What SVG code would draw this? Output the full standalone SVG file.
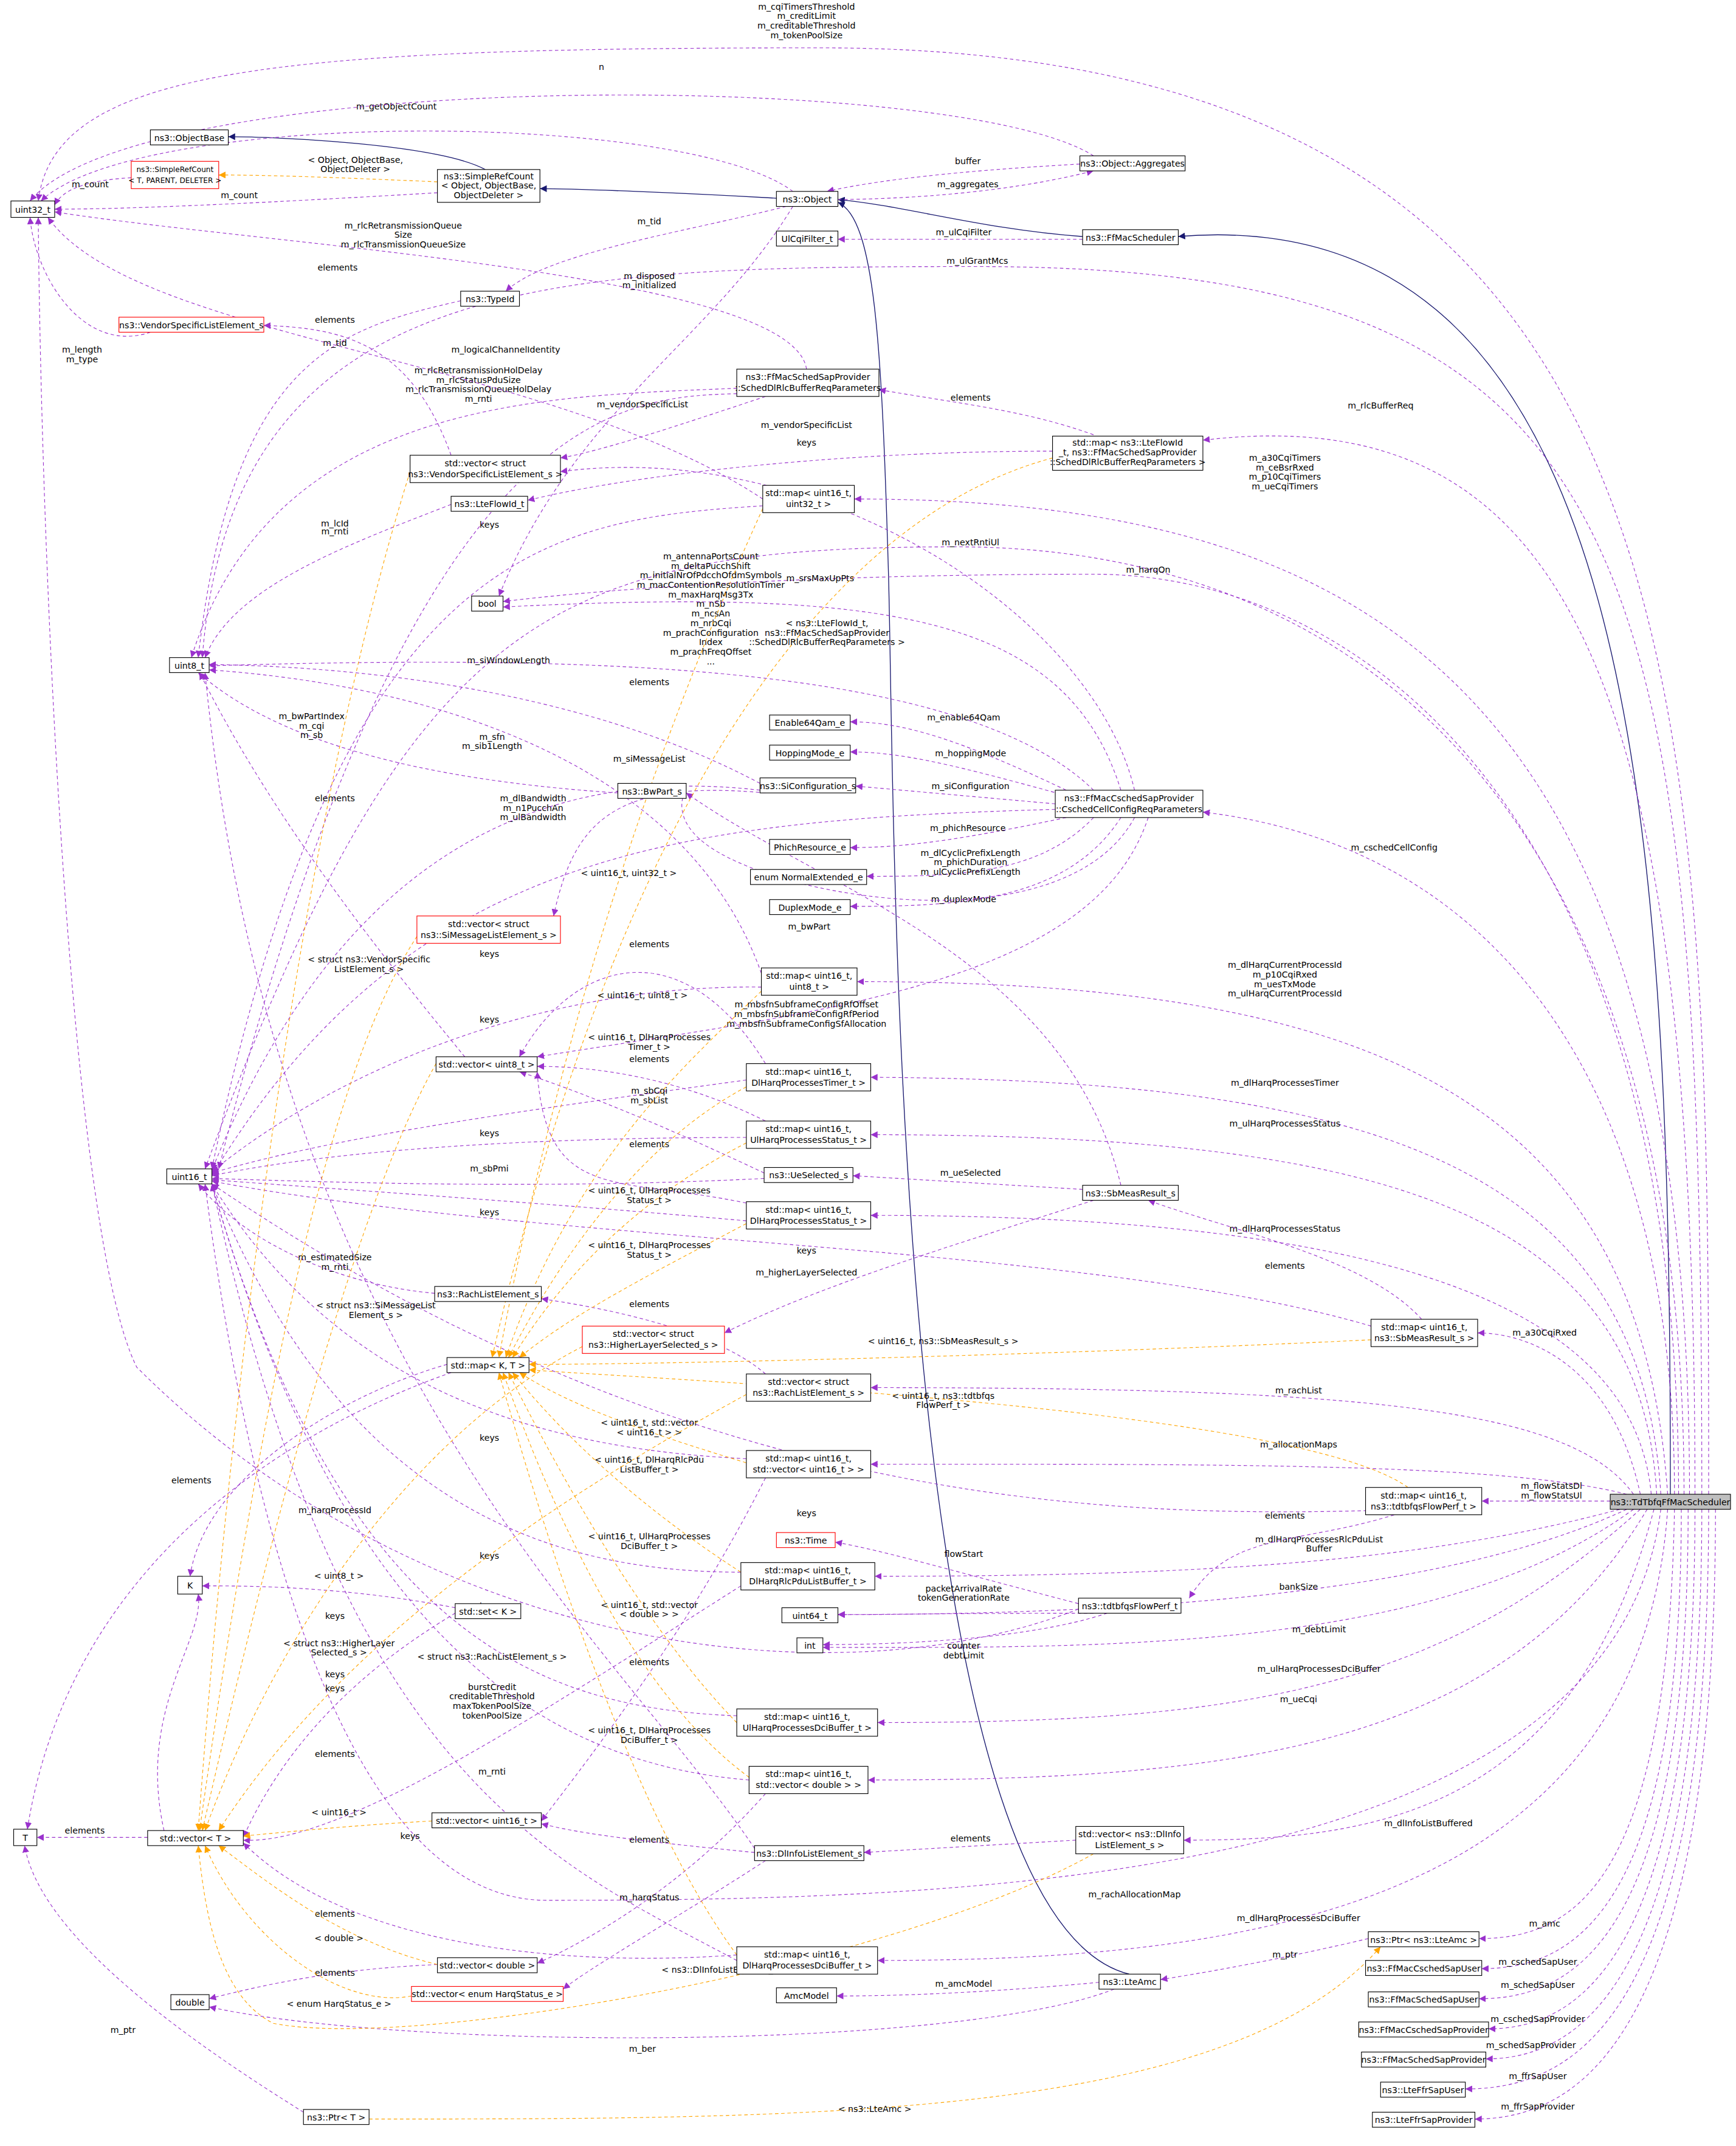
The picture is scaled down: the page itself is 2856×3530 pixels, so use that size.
<svg xmlns="http://www.w3.org/2000/svg" width="2856" height="3530" viewBox="0 0 2856 3530">
<style>
rect{fill:#fff;stroke:#000;stroke-width:0.5}
.r{stroke:#f00}
.g{fill:#bfbfbf}
text{font-family:"DejaVu Sans",sans-serif;font-size:6.3px;text-anchor:middle;fill:#000}
.s{font-size:5.4px}
.e{fill:none;stroke:#9a32cd;stroke-width:0.5;stroke-dasharray:2.5,2}
.o{fill:none;stroke:#ffa500;stroke-width:0.5;stroke-dasharray:2.5,2}
.i{fill:none;stroke:#191970;stroke-width:0.6}
</style>
<defs>
<marker id="mp" viewBox="0 0 10 10" refX="10" refY="5" markerWidth="5" markerHeight="5" markerUnits="userSpaceOnUse" orient="auto"><path d="M0,0L10,5L0,10z" fill="#9a32cd"/></marker>
<marker id="mo" viewBox="0 0 10 10" refX="10" refY="5" markerWidth="5" markerHeight="5" markerUnits="userSpaceOnUse" orient="auto"><path d="M0,0L10,5L0,10z" fill="#ffa500"/></marker>
<marker id="mi" viewBox="0 0 10 10" refX="10" refY="5" markerWidth="5" markerHeight="5" markerUnits="userSpaceOnUse" orient="auto"><path d="M0,0L10,5L0,10z" fill="#191970"/></marker>
</defs>
<rect x="0" y="0" width="2856" height="3530" style="fill:#fff;stroke:none"/>
<g transform="scale(2.2488)">
<g id="connectors">
<path class="i" marker-end="url(#mi)" d="M1222,1093C1222,600 1200,145 862,173"/>
<path class="i" marker-end="url(#mi)" d="M792,173C720,168 660,150 613,146"/>
<path class="i" marker-end="url(#mi)" d="M568,145C500,141 420,138 395,138"/>
<path class="i" marker-end="url(#mi)" d="M355,124C320,105 200,100 167,100"/>
<path class="i" marker-end="url(#mi)" d="M826,1444C650,1400 655,600 650,420C645,250 640,160 613,148"/>
<path class="e" marker-end="url(#mp)" d="M1250,1093C1250,500 1250,35 600,35C200,35 40,50 28,147"/>
<text x="590" y="7">m_cqiTimersThreshold</text><text x="590" y="14">m_creditLimit</text><text x="590" y="21">m_creditableThreshold</text><text x="590" y="28">m_tokenPoolSize</text>
<path class="e" marker-end="url(#mp)" d="M1245,1093C1245,400 1200,195 715,195C400,195 170,200 148,481"/>
<text x="715" y="193">m_ulGrantMcs</text>
<path class="e" marker-end="url(#mp)" d="M1240,1093C1240,500 1150,290 880,322"/>
<text x="1010" y="299">m_rlcBufferReq</text>
<path class="e" marker-end="url(#mp)" d="M1236,1093C1236,500 1000,365 625,365"/>
<text x="940" y="337">m_a30CqiTimers</text><text x="940" y="344">m_ceBsrRxed</text><text x="940" y="351">m_p10CqiTimers</text><text x="940" y="358">m_ueCqiTimers</text>
<path class="e" marker-end="url(#mp)" d="M1232,1093C1232,600 1000,400 700,400C400,400 300,450 150,855"/>
<text x="710" y="399">m_nextRntiUl</text>
<path class="e" marker-end="url(#mp)" d="M1228,1093C1228,600 1000,420 800,420C600,420 450,430 368,440"/>
<text x="840" y="419">m_harqOn</text>
<path class="e" marker-end="url(#mp)" d="M1225,1093C1225,800 1100,620 880,594"/>
<text x="1020" y="622">m_cschedCellConfig</text>
<path class="e" marker-end="url(#mp)" d="M1220,1093C1200,800 1000,718 627,718"/>
<text x="940" y="708">m_dlHarqCurrentProcessId</text><text x="940" y="715">m_p10CqiRxed</text><text x="940" y="722">m_uesTxMode</text><text x="940" y="729">m_ulHarqCurrentProcessId</text>
<path class="e" marker-end="url(#mp)" d="M1215,1093C1200,850 1000,790 637,788"/>
<text x="940" y="794">m_dlHarqProcessesTimer</text>
<path class="e" marker-end="url(#mp)" d="M1212,1093C1200,880 1000,830 637,830"/>
<text x="940" y="824">m_ulHarqProcessesStatus</text>
<path class="e" marker-end="url(#mp)" d="M1208,1093C1195,950 1000,889 637,889"/>
<text x="940" y="901">m_dlHarqProcessesStatus</text>
<path class="e" marker-end="url(#mp)" d="M1200,1093C1180,1000 1120,975 1081,975"/>
<text x="1130" y="977">m_a30CqiRxed</text>
<path class="e" marker-end="url(#mp)" d="M1195,1093C1150,1030 1000,1015 637,1015"/>
<text x="950" y="1019">m_rachList</text>
<path class="e" marker-end="url(#mp)" d="M1190,1093C1100,1070 900,1071 637,1071"/>
<text x="950" y="1059">m_allocationMaps</text>
<path class="e" marker-end="url(#mp)" d="M1178,1098L1084,1098"/>
<text x="1135" y="1089">m_flowStatsDl</text><text x="1135" y="1096">m_flowStatsUl</text>
<path class="e" marker-end="url(#mp)" d="M1185,1104C1050,1140 900,1153 640,1153"/>
<text x="965" y="1128">m_dlHarqProcessesRlcPduList</text><text x="965" y="1135">Buffer</text>
<path class="e" marker-end="url(#mp)" d="M1190,1104C1050,1170 800,1181 613,1181"/>
<text x="950" y="1163">bankSize</text>
<path class="e" marker-end="url(#mp)" d="M1195,1104C1050,1210 800,1205 602,1205"/>
<text x="965" y="1194">m_debtLimit</text>
<path class="e" marker-end="url(#mp)" d="M1200,1104C1050,1240 900,1260 642,1260"/>
<text x="965" y="1223">m_ulHarqProcessesDciBuffer</text>
<path class="e" marker-end="url(#mp)" d="M1205,1104C1100,1280 900,1302 635,1302"/>
<text x="950" y="1245">m_ueCqi</text>
<path class="e" marker-end="url(#mp)" d="M1210,1104C1150,1330 1000,1346 866,1346"/>
<text x="1045" y="1336">m_dlInfoListBuffered</text>
<path class="e" marker-end="url(#mp)" d="M1215,1104C1180,1380 700,1390 400,1390C250,1390 180,1100 150,866"/>
<text x="830" y="1388">m_rachAllocationMap</text>
<path class="e" marker-end="url(#mp)" d="M1220,1104C1200,1400 900,1434 642,1434"/>
<text x="950" y="1405">m_dlHarqProcessesDciBuffer</text>
<path class="e" marker-end="url(#mp)" d="M1225,1104C1220,1380 1150,1418 1082,1418"/>
<text x="1130" y="1409">m_amc</text>
<path class="e" marker-end="url(#mp)" d="M1230,1104C1230,1400 1150,1440 1084,1440"/>
<text x="1125" y="1437">m_cschedSapUser</text>
<path class="e" marker-end="url(#mp)" d="M1235,1104C1235,1420 1150,1462 1082,1462"/>
<text x="1125" y="1454">m_schedSapUser</text>
<path class="e" marker-end="url(#mp)" d="M1240,1104C1240,1440 1150,1484 1089,1484"/>
<text x="1125" y="1479">m_cschedSapProvider</text>
<path class="e" marker-end="url(#mp)" d="M1245,1104C1245,1460 1150,1506 1087,1506"/>
<text x="1120" y="1498">m_schedSapProvider</text>
<path class="e" marker-end="url(#mp)" d="M1250,1104C1250,1480 1150,1528 1072,1528"/>
<text x="1125" y="1521">m_ffrSapUser</text>
<path class="e" marker-end="url(#mp)" d="M1255,1104C1255,1500 1150,1550 1079,1550"/>
<text x="1125" y="1543">m_ffrSapProvider</text>
<path class="e" marker-end="url(#mp)" d="M96,130C60,132 45,140 40,150"/>
<text x="66" y="137">m_count</text>
<path class="o" marker-end="url(#mo)" d="M320,133C250,130 200,128 160,128"/>
<text x="260" y="119">&lt; Object, ObjectBase,</text><text x="260" y="126">ObjectDeleter &gt;</text>
<path class="e" marker-end="url(#mp)" d="M320,141C200,148 100,153 40,153"/>
<text x="175" y="145">m_count</text>
<path class="e" marker-end="url(#mp)" d="M580,140C500,80 100,80 30,147"/>
<text x="290" y="80">m_getObjectCount</text>
<path class="e" marker-end="url(#mp)" d="M800,114C700,50 100,50 22,147"/>
<text x="440" y="51">n</text>
<path class="e" marker-end="url(#mp)" d="M790,120C700,125 640,132 605,140"/>
<text x="708" y="120">buffer</text>
<path class="e" marker-end="url(#mp)" d="M613,146C700,145 760,135 800,125"/>
<text x="708" y="137">m_aggregates</text>
<path class="e" marker-end="url(#mp)" d="M575,151C500,170 400,185 370,213"/>
<text x="475" y="164">m_tid</text>
<path class="e" marker-end="url(#mp)" d="M580,151C520,250 420,300 365,436"/>
<text x="475" y="204">m_disposed</text><text x="475" y="211">m_initialized</text>
<path class="e" marker-end="url(#mp)" d="M792,175L613,175"/>
<text x="705" y="172">m_ulCqiFilter</text>
<path class="e" marker-end="url(#mp)" d="M337,220C250,240 170,260 145,481"/>
<text x="245" y="253">m_tid</text>
<path class="e" marker-end="url(#mp)" d="M110,243C60,260 25,200 22,159"/>
<text x="60" y="258">m_length</text><text x="60" y="265">m_type</text>
<path class="e" marker-end="url(#mp)" d="M330,333C300,250 250,240 193,238"/>
<text x="245" y="236">elements</text>
<path class="e" marker-end="url(#mp)" d="M590,270C580,200 200,180 40,155"/>
<text x="295" y="167">m_rlcRetransmissionQueue</text><text x="295" y="174">Size</text><text x="295" y="181">m_rlcTransmissionQueueSize</text>
<path class="e" marker-end="url(#mp)" d="M539,284C400,290 200,290 140,481"/>
<text x="370" y="258">m_logicalChannelIdentity</text>
<path class="e" marker-end="url(#mp)" d="M539,288C450,290 300,300 160,855"/>
<text x="350" y="273">m_rlcRetransmissionHolDelay</text><text x="350" y="280">m_rlcStatusPduSize</text><text x="350" y="287">m_rlcTransmissionQueueHolDelay</text><text x="350" y="294">m_rnti</text>
<path class="e" marker-end="url(#mp)" d="M560,290C500,310 440,330 410,335"/>
<text x="470" y="298">m_vendorSpecificList</text>
<path class="e" marker-end="url(#mp)" d="M800,318C750,300 700,295 643,285"/>
<text x="710" y="293">elements</text>
<path class="e" marker-end="url(#mp)" d="M770,330C600,330 450,350 386,366"/>
<text x="590" y="326">keys</text>
<path class="e" marker-end="url(#mp)" d="M330,369C250,400 170,430 150,481"/>
<text x="245" y="385">m_lcId</text><text x="245" y="391">m_rnti</text>
<path class="e" marker-end="url(#mp)" d="M558,365C400,260 100,250 35,159"/>
<text x="247" y="198">elements</text>
<path class="e" marker-end="url(#mp)" d="M558,370C400,380 250,400 155,855"/>
<text x="358" y="386">keys</text>
<path class="e" marker-end="url(#mp)" d="M800,578C700,480 400,480 153,487"/>
<text x="520" y="409">m_antennaPortsCount</text><text x="520" y="416">m_deltaPucchShift</text><text x="520" y="423">m_initialNrOfPdcchOfdmSymbols</text><text x="520" y="430">m_macContentionResolutionTimer</text><text x="520" y="437">m_maxHarqMsg3Tx</text><text x="520" y="444">m_nSb</text><text x="520" y="451">m_ncsAn</text><text x="520" y="458">m_nrbCqi</text><text x="520" y="465">m_prachConfiguration</text><text x="520" y="472">Index</text><text x="520" y="479">m_prachFreqOffset</text><text x="520" y="486">...</text>
<path class="e" marker-end="url(#mp)" d="M820,578C780,450 650,430 368,444"/>
<text x="600" y="425">m_srsMaxUpPts</text>
<path class="e" marker-end="url(#mp)" d="M780,578C700,540 660,528 622,528"/>
<text x="705" y="527">m_enable64Qam</text>
<path class="e" marker-end="url(#mp)" d="M780,582C700,560 660,550 622,550"/>
<text x="710" y="553">m_hoppingMode</text>
<path class="e" marker-end="url(#mp)" d="M772,588L626,575"/>
<text x="710" y="577">m_siConfiguration</text>
<path class="e" marker-end="url(#mp)" d="M780,598C700,615 660,620 622,620"/>
<text x="708" y="608">m_phichResource</text>
<path class="e" marker-end="url(#mp)" d="M800,598C760,640 700,641 634,641"/>
<text x="710" y="626">m_dlCyclicPrefixLength</text><text x="710" y="633">m_phichDuration</text><text x="710" y="640">m_ulCyclicPrefixLength</text>
<path class="e" marker-end="url(#mp)" d="M820,598C780,660 700,663 622,663"/>
<text x="705" y="660">m_duplexMode</text>
<path class="e" marker-end="url(#mp)" d="M830,598C780,690 580,660 520,620C490,600 500,580 502,578"/>
<text x="592" y="680">m_bwPart</text>
<path class="e" marker-end="url(#mp)" d="M772,592C500,600 300,620 155,860"/>
<text x="390" y="586">m_dlBandwidth</text><text x="390" y="593">m_n1PucchAn</text><text x="390" y="600">m_ulBandwidth</text>
<path class="e" marker-end="url(#mp)" d="M830,578C800,450 600,320 410,345"/>
<text x="590" y="313">m_vendorSpecificList</text>
<path class="e" marker-end="url(#mp)" d="M840,598C800,720 600,740 393,773"/>
<text x="590" y="737">m_mbsfnSubframeConfigRfOffset</text><text x="590" y="744">m_mbsfnSubframeConfigRfPeriod</text><text x="590" y="751">m_mbsfnSubframeConfigSfAllocation</text>
<path class="e" marker-end="url(#mp)" d="M556,573C400,490 200,487 153,486"/>
<text x="372" y="485">m_siWindowLength</text>
<path class="e" marker-end="url(#mp)" d="M556,578C400,560 250,620 155,856"/>
<text x="360" y="541">m_sfn</text><text x="360" y="548">m_sib1Length</text>
<path class="e" marker-end="url(#mp)" d="M560,580C450,570 420,600 405,670"/>
<text x="475" y="557">m_siMessageList</text>
<path class="e" marker-end="url(#mp)" d="M452,580C300,570 200,540 145,492"/>
<text x="228" y="526">m_bwPartIndex</text><text x="228" y="533">m_cqi</text><text x="228" y="540">m_sb</text>
<path class="e" marker-end="url(#mp)" d="M557,712C500,550 300,500 153,490"/>
<text x="475" y="501">elements</text>
<path class="e" marker-end="url(#mp)" d="M557,722C400,720 250,780 155,857"/>
<text x="358" y="700">keys</text>
<path class="e" marker-end="url(#mp)" d="M340,773C280,700 200,600 146,492"/>
<text x="245" y="586">elements</text>
<path class="e" marker-end="url(#mp)" d="M560,778C500,680 420,700 380,773"/>
<text x="475" y="693">elements</text>
<path class="e" marker-end="url(#mp)" d="M546,790C400,810 250,830 155,858"/>
<text x="358" y="748">keys</text>
<path class="e" marker-end="url(#mp)" d="M560,820C500,790 440,780 393,780"/>
<text x="475" y="777">elements</text>
<path class="e" marker-end="url(#mp)" d="M546,832C400,832 250,840 155,860"/>
<text x="358" y="831">keys</text>
<path class="e" marker-end="url(#mp)" d="M559,858C500,830 430,800 380,784"/>
<text x="475" y="800">m_sbCqi</text><text x="475" y="807">m_sbList</text>
<path class="e" marker-end="url(#mp)" d="M792,870L624,860"/>
<text x="710" y="860">m_ueSelected</text>
<path class="e" marker-end="url(#mp)" d="M820,867C780,700 600,650 502,580"/>
<path class="e" marker-end="url(#mp)" d="M800,878C700,910 600,940 530,975"/>
<text x="590" y="933">m_higherLayerSelected</text>
<path class="e" marker-end="url(#mp)" d="M546,880C450,860 400,880 393,784"/>
<text x="475" y="839">elements</text>
<path class="e" marker-end="url(#mp)" d="M546,893C400,880 250,870 155,863"/>
<text x="358" y="889">keys</text>
<path class="e" marker-end="url(#mp)" d="M559,862C400,870 250,865 155,862"/>
<text x="358" y="857">m_sbPmi</text>
<path class="e" marker-end="url(#mp)" d="M318,946C250,940 180,910 145,866"/>
<text x="245" y="922">m_estimatedSize</text><text x="245" y="929">m_rnti</text>
<path class="e" marker-end="url(#mp)" d="M560,1005C520,970 430,955 396,950"/>
<text x="475" y="956">elements</text>
<path class="e" marker-end="url(#mp)" d="M1040,965C1000,920 900,900 840,878"/>
<text x="940" y="928">elements</text>
<path class="e" marker-end="url(#mp)" d="M1003,970C800,910 400,910 155,864"/>
<text x="590" y="917">keys</text>
<path class="e" marker-end="url(#mp)" d="M1000,1105C800,1110 500,1100 155,866"/>
<text x="590" y="1109">keys</text>
<path class="e" marker-end="url(#mp)" d="M1020,1108C950,1130 900,1120 870,1169"/>
<text x="940" y="1111">elements</text>
<path class="e" marker-end="url(#mp)" d="M789,1173C700,1150 650,1135 611,1128"/>
<text x="705" y="1139">flowStart</text>
<path class="e" marker-end="url(#mp)" d="M800,1180C700,1180 650,1181 613,1181"/>
<text x="705" y="1164">packetArrivalRate</text><text x="705" y="1171">tokenGenerationRate</text>
<path class="e" marker-end="url(#mp)" d="M810,1180C750,1200 650,1203 602,1203"/>
<text x="705" y="1206">counter</text><text x="705" y="1213">debtLimit</text>
<path class="e" marker-end="url(#mp)" d="M789,1177C600,1250 300,1200 100,1000C50,900 30,400 28,159"/>
<text x="360" y="1236">burstCredit</text><text x="360" y="1243">creditableThreshold</text><text x="360" y="1250">maxTokenPoolSize</text><text x="360" y="1257">tokenPoolSize</text>
<path class="e" marker-end="url(#mp)" d="M546,1067C400,1060 250,1020 155,866"/>
<text x="358" y="1054">keys</text>
<path class="e" marker-end="url(#mp)" d="M560,1081C500,1200 420,1300 396,1332"/>
<text x="475" y="1218">elements</text>
<path class="e" marker-end="url(#mp)" d="M542,1150C400,1150 250,1100 155,866"/>
<text x="358" y="1140">keys</text>
<path class="e" marker-end="url(#mp)" d="M542,1160C400,1250 250,1350 178,1346"/>
<text x="245" y="1285">elements</text>
<path class="e" marker-end="url(#mp)" d="M539,1255C400,1250 250,1200 155,866"/>
<text x="358" y="1177">keys</text>
<path class="e" marker-end="url(#mp)" d="M548,1302C400,1290 250,1200 155,866"/>
<text x="245" y="1227">keys</text>
<path class="e" marker-end="url(#mp)" d="M560,1312C500,1380 430,1420 393,1436"/>
<text x="475" y="1348">elements</text>
<path class="e" marker-end="url(#mp)" d="M539,1430C400,1440 250,1420 178,1348"/>
<text x="245" y="1402">elements</text>
<path class="e" marker-end="url(#mp)" d="M539,1434C400,1360 250,1300 155,866"/>
<text x="300" y="1345">keys</text>
<path class="e" marker-end="url(#mp)" d="M787,1346L632,1355"/>
<text x="710" y="1347">elements</text>
<path class="e" marker-end="url(#mp)" d="M552,1355C450,1345 420,1340 396,1334"/>
<text x="360" y="1298">m_rnti</text>
<path class="e" marker-end="url(#mp)" d="M552,1352C450,1200 200,1000 150,492"/>
<text x="245" y="1107">m_harqProcessId</text>
<path class="e" marker-end="url(#mp)" d="M560,1361C500,1400 430,1440 412,1455"/>
<text x="475" y="1390">m_harqStatus</text>
<path class="e" marker-end="url(#mp)" d="M320,1437C250,1440 200,1450 153,1462"/>
<text x="245" y="1445">elements</text>
<path class="e" marker-end="url(#mp)" d="M120,1339C100,1250 150,1200 145,1166"/>
<text x="245" y="1184">keys</text>
<path class="e" marker-end="url(#mp)" d="M108,1344L27,1344"/>
<text x="62" y="1341">elements</text>
<path class="e" marker-end="url(#mp)" d="M327,998C250,1020 150,1080 139,1153"/>
<path class="e" marker-end="url(#mp)" d="M330,1004C200,1050 50,1150 20,1338"/>
<text x="140" y="1085">elements</text>
<path class="e" marker-end="url(#mp)" d="M333,1180C300,1200 220,1250 178,1344"/>
<path class="e" marker-end="url(#mp)" d="M333,1176C250,1160 180,1160 148,1160"/>
<text x="245" y="1237">keys</text>
<path class="e" marker-end="url(#mp)" d="M804,1450C750,1455 680,1460 612,1460"/>
<text x="705" y="1453">m_amcModel</text>
<path class="e" marker-end="url(#mp)" d="M815,1455C700,1500 300,1500 153,1468"/>
<text x="470" y="1501">m_ber</text>
<path class="e" marker-end="url(#mp)" d="M1001,1418C950,1430 900,1440 849,1448"/>
<text x="940" y="1432">m_ptr</text>
<path class="e" marker-end="url(#mp)" d="M222,1545C150,1500 30,1420 18,1350"/>
<text x="90" y="1487">m_ptr</text>
<path class="o" marker-end="url(#mo)" d="M270,1550C600,1550 900,1550 1010,1424"/>
<text x="640" y="1545">&lt; ns3::LteAmc &gt;</text>
<path class="o" marker-end="url(#mo)" d="M770,335C600,380 450,600 360,993"/>
<text x="605" y="458">&lt; ns3::LteFlowId_t,</text><text x="605" y="465">ns3::FfMacSchedSapProvider</text><text x="605" y="472">::SchedDlRlcBufferReqParameters &gt;</text>
<path class="o" marker-end="url(#mo)" d="M558,372C500,500 420,700 365,993"/>
<text x="460" y="641">&lt; uint16_t, uint32_t &gt;</text>
<path class="o" marker-end="url(#mo)" d="M557,725C500,780 420,850 370,993"/>
<text x="470" y="730">&lt; uint16_t, uint8_t &gt;</text>
<path class="o" marker-end="url(#mo)" d="M546,795C480,830 420,900 372,993"/>
<text x="475" y="761">&lt; uint16_t, DlHarqProcesses</text><text x="475" y="768">Timer_t &gt;</text>
<path class="o" marker-end="url(#mo)" d="M546,836C480,870 420,920 375,993"/>
<text x="475" y="873">&lt; uint16_t, UlHarqProcesses</text><text x="475" y="880">Status_t &gt;</text>
<path class="o" marker-end="url(#mo)" d="M546,895C480,930 420,960 380,993"/>
<text x="475" y="913">&lt; uint16_t, DlHarqProcesses</text><text x="475" y="920">Status_t &gt;</text>
<path class="o" marker-end="url(#mo)" d="M1003,980C800,990 500,998 387,998"/>
<text x="690" y="983">&lt; uint16_t, ns3::SbMeasResult_s &gt;</text>
<path class="o" marker-end="url(#mo)" d="M1030,1088C950,1030 500,1010 387,1002"/>
<text x="690" y="1023">&lt; uint16_t, ns3::tdtbfqs</text><text x="690" y="1030">FlowPerf_t &gt;</text>
<path class="o" marker-end="url(#mo)" d="M546,1070C480,1050 420,1030 380,1004"/>
<text x="475" y="1043">&lt; uint16_t, std::vector</text><text x="475" y="1050">&lt; uint16_t &gt; &gt;</text>
<path class="o" marker-end="url(#mo)" d="M542,1150C480,1110 420,1060 375,1004"/>
<text x="475" y="1070">&lt; uint16_t, DlHarqRlcPdu</text><text x="475" y="1077">ListBuffer_t &gt;</text>
<path class="o" marker-end="url(#mo)" d="M539,1260C480,1200 420,1100 372,1004"/>
<text x="475" y="1126">&lt; uint16_t, UlHarqProcesses</text><text x="475" y="1133">DciBuffer_t &gt;</text>
<path class="o" marker-end="url(#mo)" d="M548,1300C480,1250 420,1150 368,1004"/>
<text x="475" y="1176">&lt; uint16_t, std::vector</text><text x="475" y="1183">&lt; double &gt; &gt;</text>
<path class="o" marker-end="url(#mo)" d="M539,1430C480,1350 420,1200 365,1004"/>
<text x="475" y="1268">&lt; uint16_t, DlHarqProcesses</text><text x="475" y="1275">DciBuffer_t &gt;</text>
<path class="o" marker-end="url(#mo)" d="M319,778C250,900 180,1200 148,1339"/>
<text x="248" y="1155">&lt; uint8_t &gt;</text>
<path class="o" marker-end="url(#mo)" d="M300,345C220,600 170,1000 145,1339"/>
<text x="270" y="704">&lt; struct ns3::VendorSpecific</text><text x="270" y="711">ListElement_s &gt;</text>
<path class="o" marker-end="url(#mo)" d="M305,685C230,800 180,1100 146,1339"/>
<text x="275" y="957">&lt; struct ns3::SiMessageList</text><text x="275" y="964">Element_s &gt;</text>
<path class="o" marker-end="url(#mo)" d="M426,985C300,1050 200,1200 150,1339"/>
<text x="248" y="1204">&lt; struct ns3::HigherLayer</text><text x="248" y="1211">Selected_s &gt;</text>
<path class="o" marker-end="url(#mo)" d="M546,1020C400,1100 250,1200 160,1339"/>
<text x="360" y="1214">&lt; struct ns3::RachListElement_s &gt;</text>
<path class="o" marker-end="url(#mo)" d="M316,1332C260,1335 210,1340 178,1343"/>
<text x="248" y="1328">&lt; uint16_t &gt;</text>
<path class="o" marker-end="url(#mo)" d="M320,1437C250,1420 200,1380 160,1350"/>
<text x="248" y="1420">&lt; double &gt;</text>
<path class="o" marker-end="url(#mo)" d="M301,1460C250,1470 180,1420 150,1350"/>
<text x="248" y="1468">&lt; enum HarqStatus_e &gt;</text>
<path class="o" marker-end="url(#mo)" d="M800,1356C650,1440 300,1500 200,1480C160,1460 150,1400 145,1350"/>
<text x="530" y="1443">&lt; ns3::DlInfoListElement_s &gt;</text>
</g>
<g id="n_uint32"><rect x="8" y="147" width="32" height="12"/><text x="24" y="155.5">uint32_t</text></g>
<g id="n_objbase"><rect x="110" y="95" width="57" height="11"/><text x="138.5" y="103">ns3::ObjectBase</text></g>
<g id="n_src_t"><rect class="r" x="96" y="118" width="64" height="20"/><text class="s" x="128" y="126">ns3::SimpleRefCount</text><text class="s" x="128" y="134">&lt; T, PARENT, DELETER &gt;</text></g>
<g id="n_src_o"><rect x="320" y="124" width="75" height="24"/><text x="357.5" y="131">ns3::SimpleRefCount</text><text x="357.5" y="138">&lt; Object, ObjectBase,</text><text x="357.5" y="145">ObjectDeleter &gt;</text></g>
<g id="n_object"><rect x="568" y="140" width="45" height="11"/><text x="590.5" y="148">ns3::Object</text></g>
<g id="n_aggr"><rect x="790" y="114" width="77" height="11"/><text x="828.5" y="122">ns3::Object::Aggregates</text></g>
<g id="n_ulcqi"><rect x="568" y="169" width="45" height="11"/><text x="590.5" y="177">UlCqiFilter_t</text></g>
<g id="n_ffmac"><rect x="792" y="168" width="70" height="11"/><text x="827" y="176">ns3::FfMacScheduler</text></g>
<g id="n_typeid"><rect x="337" y="213" width="43" height="11"/><text x="358.5" y="221">ns3::TypeId</text></g>
<g id="n_vendor"><rect class="r" x="87" y="232" width="106" height="11"/><text x="140" y="240">ns3::VendorSpecificListElement_s</text></g>
<g id="n_rlcreq"><rect x="539" y="270" width="104" height="20"/><text x="591" y="278">ns3::FfMacSchedSapProvider</text><text x="591" y="286">::SchedDlRlcBufferReqParameters</text></g>
<g id="n_maprlc"><rect x="770" y="319" width="110" height="25"/><text x="825" y="326">std::map&lt; ns3::LteFlowId</text><text x="825" y="333">_t, ns3::FfMacSchedSapProvider</text><text x="825" y="340">::SchedDlRlcBufferReqParameters &gt;</text></g>
<g id="n_vecvendor"><rect x="300" y="333" width="110" height="20"/><text x="355" y="341">std::vector&lt; struct</text><text x="355" y="349">ns3::VendorSpecificListElement_s &gt;</text></g>
<g id="n_flowid"><rect x="330" y="363" width="56" height="11"/><text x="358" y="371">ns3::LteFlowId_t</text></g>
<g id="n_map1632"><rect x="558" y="355" width="67" height="20"/><text x="591.5" y="363">std::map&lt; uint16_t,</text><text x="591.5" y="371">uint32_t &gt;</text></g>
<g id="n_bool"><rect x="345" y="436" width="23" height="11"/><text x="356.5" y="444">bool</text></g>
<g id="n_uint8"><rect x="124" y="481" width="29" height="11"/><text x="138.5" y="489">uint8_t</text></g>
<g id="n_e64"><rect x="563" y="523" width="59" height="11"/><text x="592.5" y="531">Enable64Qam_e</text></g>
<g id="n_hop"><rect x="563" y="545" width="59" height="11"/><text x="592.5" y="553">HoppingMode_e</text></g>
<g id="n_sicfg"><rect x="556" y="569" width="70" height="11"/><text x="591" y="577">ns3::SiConfiguration_s</text></g>
<g id="n_bwpart"><rect x="452" y="573" width="50" height="11"/><text x="477" y="581">ns3::BwPart_s</text></g>
<g id="n_cell"><rect x="772" y="578" width="108" height="20"/><text x="826" y="586">ns3::FfMacCschedSapProvider</text><text x="826" y="594">::CschedCellConfigReqParameters</text></g>
<g id="n_phich"><rect x="563" y="614" width="59" height="11"/><text x="592.5" y="622">PhichResource_e</text></g>
<g id="n_normext"><rect x="549" y="636" width="85" height="11"/><text x="591.5" y="644">enum NormalExtended_e</text></g>
<g id="n_duplex"><rect x="563" y="658" width="59" height="11"/><text x="592.5" y="666">DuplexMode_e</text></g>
<g id="n_vecsimsg"><rect class="r" x="305" y="670" width="105" height="20"/><text x="357.5" y="678">std::vector&lt; struct</text><text x="357.5" y="686">ns3::SiMessageListElement_s &gt;</text></g>
<g id="n_map168"><rect x="557" y="708" width="70" height="20"/><text x="592" y="716">std::map&lt; uint16_t,</text><text x="592" y="724">uint8_t &gt;</text></g>
<g id="n_vec8"><rect x="319" y="773" width="74" height="11"/><text x="356" y="781">std::vector&lt; uint8_t &gt;</text></g>
<g id="n_mapdltimer"><rect x="546" y="778" width="91" height="20"/><text x="591.5" y="786">std::map&lt; uint16_t,</text><text x="591.5" y="794">DlHarqProcessesTimer_t &gt;</text></g>
<g id="n_mapulstat"><rect x="546" y="820" width="91" height="20"/><text x="591.5" y="828">std::map&lt; uint16_t,</text><text x="591.5" y="836">UlHarqProcessesStatus_t &gt;</text></g>
<g id="n_uesel"><rect x="559" y="854" width="65" height="11"/><text x="591.5" y="862">ns3::UeSelected_s</text></g>
<g id="n_sbmeas"><rect x="792" y="867" width="70" height="11"/><text x="827" y="875">ns3::SbMeasResult_s</text></g>
<g id="n_mapdlstat"><rect x="546" y="879" width="91" height="20"/><text x="591.5" y="887">std::map&lt; uint16_t,</text><text x="591.5" y="895">DlHarqProcessesStatus_t &gt;</text></g>
<g id="n_uint16"><rect x="122" y="855" width="33" height="11"/><text x="138.5" y="863">uint16_t</text></g>
<g id="n_rach"><rect x="318" y="941" width="78" height="11"/><text x="357" y="949">ns3::RachListElement_s</text></g>
<g id="n_vechl"><rect class="r" x="426" y="970" width="104" height="20"/><text x="478" y="978">std::vector&lt; struct</text><text x="478" y="986">ns3::HigherLayerSelected_s &gt;</text></g>
<g id="n_mapkt"><rect x="327" y="993" width="60" height="11"/><text x="357" y="1001">std::map&lt; K, T &gt;</text></g>
<g id="n_mapsb"><rect x="1003" y="965" width="78" height="20"/><text x="1042" y="973">std::map&lt; uint16_t,</text><text x="1042" y="981">ns3::SbMeasResult_s &gt;</text></g>
<g id="n_vecrach"><rect x="546" y="1005" width="91" height="20"/><text x="591.5" y="1013">std::vector&lt; struct</text><text x="591.5" y="1021">ns3::RachListElement_s &gt;</text></g>
<g id="n_mapvec16"><rect x="546" y="1061" width="91" height="20"/><text x="591.5" y="1069">std::map&lt; uint16_t,</text><text x="591.5" y="1077">std::vector&lt; uint16_t &gt; &gt;</text></g>
<g id="n_mapflow"><rect x="999" y="1088" width="85" height="20"/><text x="1041.5" y="1096">std::map&lt; uint16_t,</text><text x="1041.5" y="1104">ns3::tdtbfqsFlowPerf_t &gt;</text></g>
<g id="n_main"><rect class="g" x="1178" y="1093" width="88" height="11"/><text x="1222" y="1101">ns3::TdTbfqFfMacScheduler</text></g>
<g id="n_time"><rect class="r" x="568" y="1121" width="43" height="11"/><text x="589.5" y="1129">ns3::Time</text></g>
<g id="n_k"><rect x="130" y="1153" width="18" height="13"/><text x="139" y="1162">K</text></g>
<g id="n_maprlcpdu"><rect x="542" y="1143" width="98" height="20"/><text x="591" y="1151">std::map&lt; uint16_t,</text><text x="591" y="1159">DlHarqRlcPduListBuffer_t &gt;</text></g>
<g id="n_flowperf"><rect x="789" y="1169" width="75" height="11"/><text x="826.5" y="1177">ns3::tdtbfqsFlowPerf_t</text></g>
<g id="n_setk"><rect x="333" y="1173" width="48" height="11"/><text x="357" y="1181">std::set&lt; K &gt;</text></g>
<g id="n_uint64"><rect x="572" y="1176" width="41" height="11"/><text x="592.5" y="1184">uint64_t</text></g>
<g id="n_int"><rect x="583" y="1198" width="19" height="11"/><text x="592.5" y="1206">int</text></g>
<g id="n_mapuldci"><rect x="539" y="1250" width="103" height="20"/><text x="590.5" y="1258">std::map&lt; uint16_t,</text><text x="590.5" y="1266">UlHarqProcessesDciBuffer_t &gt;</text></g>
<g id="n_mapvecd"><rect x="548" y="1292" width="87" height="20"/><text x="591.5" y="1300">std::map&lt; uint16_t,</text><text x="591.5" y="1308">std::vector&lt; double &gt; &gt;</text></g>
<g id="n_vec16"><rect x="316" y="1326" width="80" height="11"/><text x="356" y="1334">std::vector&lt; uint16_t &gt;</text></g>
<g id="n_vecdlinfo"><rect x="787" y="1336" width="79" height="20"/><text x="826.5" y="1344">std::vector&lt; ns3::DlInfo</text><text x="826.5" y="1352">ListElement_s &gt;</text></g>
<g id="n_t"><rect x="10" y="1338" width="17" height="12"/><text x="18.5" y="1346.5">T</text></g>
<g id="n_vect"><rect x="108" y="1339" width="70" height="11"/><text x="143" y="1347">std::vector&lt; T &gt;</text></g>
<g id="n_dlinfo"><rect x="552" y="1350" width="80" height="11"/><text x="592" y="1358">ns3::DlInfoListElement_s</text></g>
<g id="n_vecd"><rect x="320" y="1432" width="73" height="11"/><text x="356.5" y="1440">std::vector&lt; double &gt;</text></g>
<g id="n_ptramc"><rect x="1001" y="1413" width="81" height="11"/><text x="1041.5" y="1421">ns3::Ptr&lt; ns3::LteAmc &gt;</text></g>
<g id="n_cschedu"><rect x="999" y="1434" width="85" height="11"/><text x="1041.5" y="1442">ns3::FfMacCschedSapUser</text></g>
<g id="n_mapdldci"><rect x="539" y="1424" width="103" height="20"/><text x="590.5" y="1432">std::map&lt; uint16_t,</text><text x="590.5" y="1440">DlHarqProcessesDciBuffer_t &gt;</text></g>
<g id="n_lteamc"><rect x="804" y="1444" width="45" height="11"/><text x="826.5" y="1452">ns3::LteAmc</text></g>
<g id="n_vecharq"><rect class="r" x="301" y="1453" width="111" height="11"/><text x="356.5" y="1461">std::vector&lt; enum HarqStatus_e &gt;</text></g>
<g id="n_double"><rect x="125" y="1459" width="28" height="11"/><text x="139" y="1467">double</text></g>
<g id="n_amcmodel"><rect x="568" y="1454" width="44" height="11"/><text x="590" y="1462">AmcModel</text></g>
<g id="n_schedu"><rect x="1001" y="1457" width="81" height="11"/><text x="1041.5" y="1465">ns3::FfMacSchedSapUser</text></g>
<g id="n_cschedp"><rect x="994" y="1479" width="95" height="11"/><text x="1041.5" y="1487">ns3::FfMacCschedSapProvider</text></g>
<g id="n_schedp"><rect x="996" y="1501" width="91" height="11"/><text x="1041.5" y="1509">ns3::FfMacSchedSapProvider</text></g>
<g id="n_ffru"><rect x="1010" y="1523" width="62" height="11"/><text x="1041" y="1531">ns3::LteFfrSapUser</text></g>
<g id="n_ptrt"><rect x="222" y="1543" width="48" height="11"/><text x="246" y="1551">ns3::Ptr&lt; T &gt;</text></g>
<g id="n_ffrp"><rect x="1004" y="1545" width="75" height="11"/><text x="1041.5" y="1553">ns3::LteFfrSapProvider</text></g>
</g>
</svg>
